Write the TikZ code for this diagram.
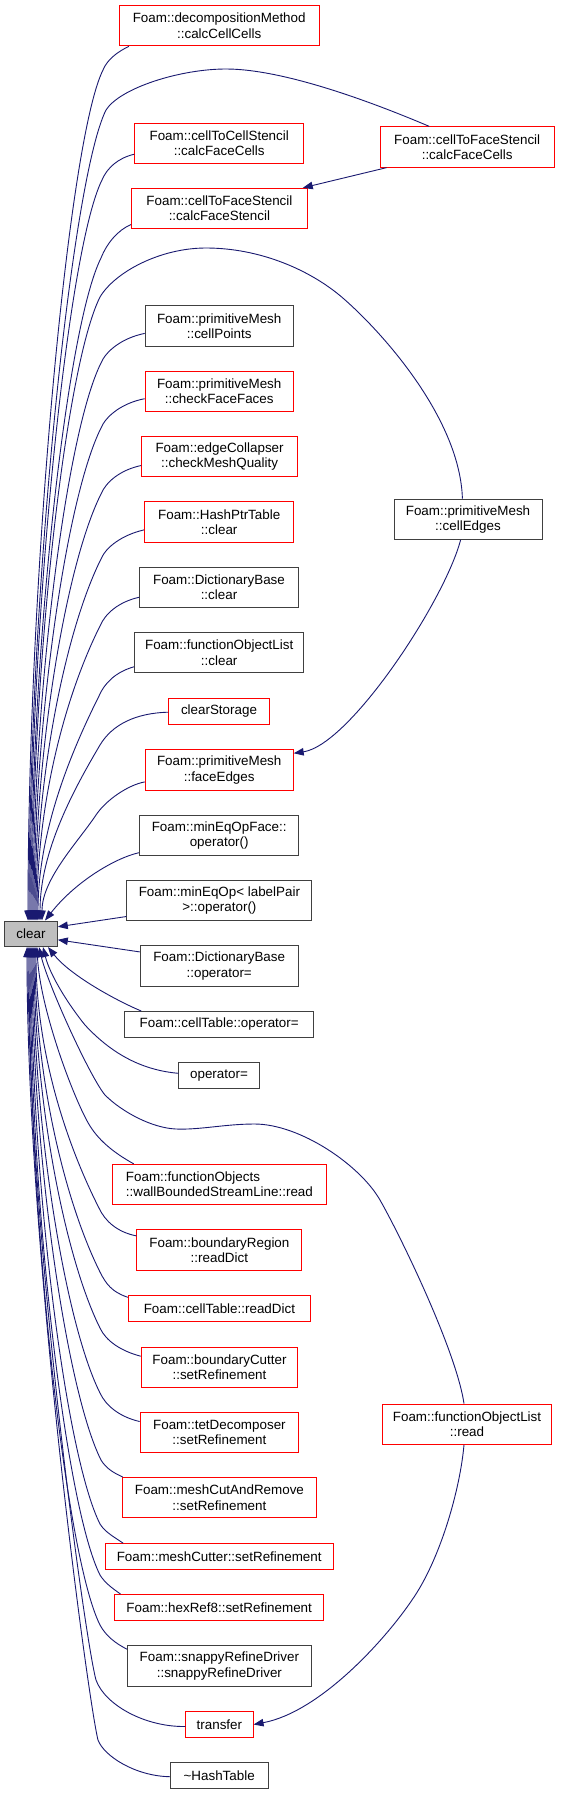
\documentclass[tikz,border=0pt]{standalone}
\usepackage{fontspec}
\setmainfont{Liberation Sans}
\usetikzlibrary{arrows.meta}
\definecolor{edgecol}{RGB}{25,25,112}
\definecolor{boxred}{RGB}{255,0,0}
\definecolor{boxblk}{RGB}{64,64,64}
\definecolor{cleargray}{RGB}{191,191,191}
\begin{document}
\begin{tikzpicture}[x=1pt,y=-1pt,
  box/.style={rectangle,fill=white,line width=1pt,inner sep=0pt,minimum height=40.3pt,align=center,
    font=\fontsize{13.4pt}{15.3pt}\selectfont},
  rbox/.style={box,draw=boxred},
  kbox/.style={box,draw=boxblk},
  oneline/.style={minimum height=25.6pt},
  edge/.style={draw=edgecol,line width=0.9pt,-{Triangle[length=10pt,width=7.5pt]},fill=none}]
\fill[white] (0,0) rectangle (560,1794);
\useasboundingbox (0,0) rectangle (560,1794);

% nodes
\node[kbox,oneline,minimum width=52.6pt,fill=cleargray] (clear) at (31,933.8) {clear};
\node[rbox,minimum width=199.6pt] (n1) at (219.2,25.7) {Foam::decompositionMethod\\::calcCellCells};
\node[rbox,minimum width=168.8pt] (n2) at (219.2,143.2) {Foam::cellToCellStencil\\::calcFaceCells};
\node[rbox,minimum width=174.3pt] (n3) at (467.2,147) {Foam::cellToFaceStencil\\::calcFaceCells};
\node[rbox,minimum width=175.7pt] (n4) at (219.4,208.5) {Foam::cellToFaceStencil\\::calcFaceStencil};
\node[kbox,minimum width=148pt] (n5) at (219.2,325.9) {Foam::primitiveMesh\\::cellPoints};
\node[rbox,minimum width=148pt] (n6) at (219.2,391.2) {Foam::primitiveMesh\\::checkFaceFaces};
\node[rbox,minimum width=155.9pt] (n7) at (219.6,456.5) {Foam::edgeCollapser\\::checkMeshQuality};
\node[rbox,minimum width=149.5pt] (n8) at (219.2,521.9) {Foam::HashPtrTable\\::clear};
\node[kbox,minimum width=158.4pt] (n9) at (219,587.2) {Foam::DictionaryBase\\::clear};
\node[kbox,minimum width=148pt] (n10) at (468,519.2) {Foam::primitiveMesh\\::cellEdges};
\node[kbox,minimum width=168.8pt] (n11) at (219.2,652.7) {Foam::functionObjectList\\::clear};
\node[rbox,oneline,minimum width=100.4pt] (n12) at (219,711.2) {clearStorage};
\node[rbox,minimum width=148pt] (n13) at (219.2,769.9) {Foam::primitiveMesh\\::faceEdges};
\node[kbox,minimum width=159.5pt] (n14) at (219.2,835.2) {Foam::minEqOpFace::\\operator()};
\node[kbox,minimum width=184.9pt] (n15) at (219.4,900.5) {Foam::minEqOp< labelPair\\>::operator()};
\node[kbox,minimum width=158pt] (n16) at (219.2,965.9) {Foam::DictionaryBase\\::operator=};
\node[kbox,oneline,minimum width=188.9pt] (n17) at (219.2,1024.3) {Foam::cellTable::operator=};
\node[kbox,oneline,minimum width=80.2pt] (n18) at (219,1075.3) {operator=};
\node[rbox,minimum width=214.3pt,align=left] (n19) at (219.4,1184.5) {Foam::functionObjects\\::wallBoundedStreamLine::read};
\node[rbox,minimum width=165pt] (n20) at (219.4,1249.9) {Foam::boundaryRegion\\::readDict};
\node[rbox,oneline,minimum width=182.1pt] (n21) at (219.4,1308.3) {Foam::cellTable::readDict};
\node[rbox,minimum width=156.6pt] (n22) at (219.5,1367.2) {Foam::boundaryCutter\\::setRefinement};
\node[rbox,minimum width=158.5pt] (n23) at (219.4,1432.5) {Foam::tetDecomposer\\::setRefinement};
\node[rbox,minimum width=194.3pt] (n24) at (219.4,1497.7) {Foam::meshCutAndRemove\\::setRefinement};
\node[rbox,minimum width=168.6pt] (n25) at (467,1424.2) {Foam::functionObjectList\\::read};
\node[rbox,oneline,minimum width=228.3pt] (n26) at (219.2,1556.5) {Foam::meshCutter::setRefinement};
\node[rbox,oneline,minimum width=209pt] (n27) at (219.2,1607.3) {Foam::hexRef8::setRefinement};
\node[kbox,minimum width=183.5pt] (n28) at (219.4,1665.9) {Foam::snappyRefineDriver\\::snappyRefineDriver};
\node[rbox,oneline,minimum width=67.3pt] (n29) at (219.4,1724.5) {transfer};
\node[kbox,oneline,minimum width=97.8pt] (n30) at (219.2,1775.2) {\textasciitilde HashTable};

% edges into clear from above
\draw[edge] ([xshift=10pt]n1.south west) .. controls (117,52) and (107,60) .. (103,70)
  .. controls (68,140) and (28,581) .. ([xshift=-3pt]clear.north);
\draw[edge] ([xshift=-38pt]n3.north) .. controls (379,105) and (286,69) .. (226,69)
  .. controls (180,69) and (120,88) .. (106,110)
  .. controls (71,180) and (29,597) .. ([xshift=-2pt]clear.north);
\draw[edge] ([yshift=-11pt]n2.west) .. controls (118,158) and (107,168) .. (102,180)
  .. controls (67,250) and (30,625) .. ([xshift=-1pt]clear.north);
\draw[edge] ([xshift=7pt]n3.south west) -- ([xshift=-5pt]n4.north east);
\draw[edge] ([yshift=-16pt]n4.west) .. controls (118,230) and (107,243) .. (101,258)
  .. controls (66,328) and (31,656) .. (clear.north);
\draw[edge] ([xshift=-5.6pt]n10.north) .. controls (460,420) and (385,335) .. (344,299)
  .. controls (311,270) and (260,248) .. (206,248)
  .. controls (160,248) and (115,272) .. (100,297)
  .. controls (65,367) and (32,671) .. ([xshift=1pt]clear.north);
\draw[edge] ([xshift=-7.4pt]n10.south) .. controls (445,600) and (350,745) .. ([yshift=-4pt]n13.north east);
\draw[edge] ([yshift=-7.5pt]n5.west) .. controls (122,338) and (106,351) .. (101,363)
  .. controls (66,433) and (33,698) .. ([xshift=2pt]clear.north);
\draw[edge] ([yshift=-7.5pt]n6.west) .. controls (122,403) and (106,416) .. (101,428)
  .. controls (66,498) and (34,724) .. ([xshift=3pt]clear.north);
\draw[edge] ([yshift=-9pt]n7.west) .. controls (120,470) and (106,482) .. (101,494)
  .. controls (66,564) and (35,750) .. ([xshift=4pt]clear.north);
\draw[edge] ([yshift=-8pt]n8.west) .. controls (122,535) and (106,547) .. (101,559)
  .. controls (66,629) and (36,776) .. ([xshift=5pt]clear.north);
\draw[edge] ([yshift=-10pt]n9.west) .. controls (118,602) and (105,614) .. (100,626)
  .. controls (65,696) and (37,803) .. ([xshift=6pt]clear.north);
\draw[edge] ([yshift=-14pt]n11.west) .. controls (115,672) and (104,684) .. (99,696)
  .. controls (71,752) and (38,831) .. ([xshift=7pt]clear.north);
\draw[edge] ([yshift=-1pt]n12.west) .. controls (135,713) and (112,725) .. (100,745)
  .. controls (74,789) and (40,851) .. ([xshift=9pt]clear.north);
\draw[edge] ([yshift=-12pt]n13.west) .. controls (128,785) and (106,800) .. (96,815)
  .. controls (78,842) and (42,879) .. ([xshift=11pt]clear.north);
\draw[edge] ([yshift=-17.5pt]n14.west) .. controls (115,858) and (75,882) .. ([xshift=14pt]clear.north);
% edges into clear from the side
\draw[edge] ([yshift=-16pt]n15.west) -- ([yshift=7pt]clear.east);
\draw[edge] ([yshift=14pt]n16.west) -- ([yshift=-6pt]clear.east);
% edges into clear from below
\draw[edge] ([xshift=17pt]n17.north west) .. controls (115,1000) and (70,975) .. ([xshift=17pt]clear.south);
\draw[edge] ([yshift=2pt]n18.west) .. controls (140,1070) and (110,1052) .. (85,1025)
  .. controls (68,1004) and (50,975) .. ([xshift=12pt]clear.south);
\draw[edge] ([xshift=-3pt]n25.north) .. controls (456,1350) and (400,1235) .. (380,1200)
  .. controls (360,1165) and (300,1124) .. (254.5,1124)
  .. controls (225,1124) and (200,1130) .. (176,1129)
  .. controls (152,1128) and (122,1112) .. (105,1095)
  .. controls (90,1077) and (48,985) .. ([xshift=8pt]clear.south);
\draw[edge] ([xshift=-3pt]n25.south) .. controls (460,1490) and (440,1560) .. (412,1600)
  .. controls (385,1640) and (320,1712) .. (n29.east);
\draw[edge] ([xshift=22pt]n19.north west) .. controls (116,1154) and (100,1142) .. (90,1126)
  .. controls (75,1102) and (40,1010) .. ([xshift=6pt]clear.south);
\draw[edge] ([yshift=14pt]n20.west) .. controls (117,1232) and (105,1221) .. (99,1208)
  .. controls (66,1143) and (36,1051) .. ([xshift=5pt]clear.south);
\draw[edge] ([yshift=11pt]n21.west) .. controls (112,1292) and (106,1284) .. (100,1272)
  .. controls (65,1202) and (35,1077) .. ([xshift=4pt]clear.south);
\draw[edge] ([yshift=11pt]n22.west) .. controls (121,1351) and (106,1341) .. (100,1328)
  .. controls (65,1258) and (34,1099) .. ([xshift=3pt]clear.south);
\draw[edge] ([yshift=11pt]n23.west) .. controls (120,1417) and (106,1406) .. (100,1393)
  .. controls (65,1323) and (33,1125) .. ([xshift=2pt]clear.south);
\draw[edge] ([xshift=1pt]n24.north west) .. controls (112,1472) and (106,1468) .. (101,1460)
  .. controls (66,1390) and (32,1152) .. ([xshift=1pt]clear.south);
\draw[edge] ([xshift=18.7pt]n26.north west) .. controls (114,1537) and (105,1532) .. (100,1524)
  .. controls (65,1454) and (31,1178) .. (clear.south);
\draw[edge] ([xshift=6.3pt]n27.north west) .. controls (112,1588) and (105,1583) .. (100,1575)
  .. controls (65,1505) and (30,1198) .. ([xshift=-1pt]clear.south);
\draw[edge] ([yshift=16.6pt]n28.west) .. controls (115,1643) and (106,1636) .. (100,1625)
  .. controls (65,1555) and (29,1218) .. ([xshift=-2pt]clear.south);
\draw[edge] ([yshift=-2pt]n29.west) .. controls (145,1727) and (105,1705) .. (96,1680)
  .. controls (85,1640) and (28,1230) .. ([xshift=-3pt]clear.south);
\draw[edge] ([yshift=-1.5pt]n30.west) .. controls (135,1776) and (104,1756) .. (98,1740)
  .. controls (88,1700) and (27,1250) .. ([xshift=-4pt]clear.south);
\end{tikzpicture}
\end{document}
